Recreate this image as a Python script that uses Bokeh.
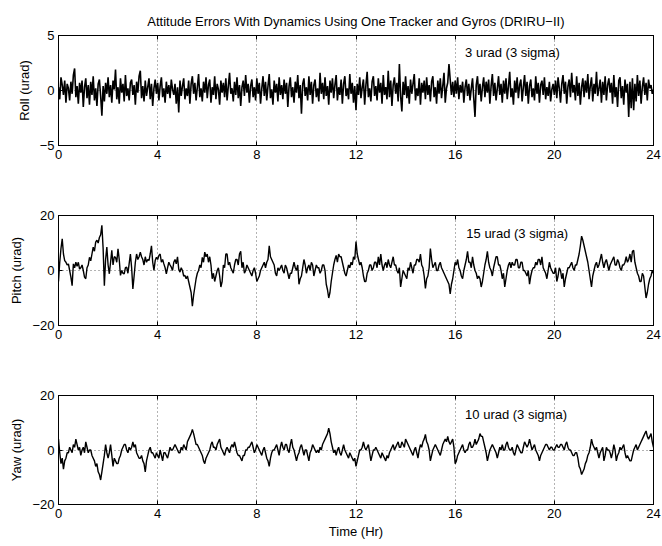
import numpy as np
from bokeh.plotting import figure
from bokeh.models import LinearAxis, Range1d, FixedTicker, ColumnDataSource
from bokeh.layouts import column
from bokeh.embed import file_html
from bokeh.resources import INLINE
from bokeh.core.properties import value

FONT = "Liberation Sans"
FS = "13px"

title_text = "Attitude Errors With Dynamics Using One Tracker and Gyros (DRIRU\u2212II)"
x_ticks = [0, 4, 8, 12, 16, 20, 24]
x_label = "Time (Hr)"

# Roll error (urad), sampled every 0.05 hr
roll_step = 0.05
roll = [
    0.3, -0.8, 1.2, 0.5, -0.4, 0.9, -1.1, 0.6, 0.2, -0.9, 0.8, -0.3, 1.4, 2.0, -0.6, 0.4, -1.2, 0.7, -0.2, 0.9,
    -1.5, 0.3, 1.1, -0.7, 0.5, -1.3, 0.8, -0.4, 1.3, -0.9, 0.2, -1.4, 0.6, 1.0, -0.5, -2.3, 0.4, -1.0, 0.7, -0.3,
    1.2, -0.6, 0.5, -1.1, 0.9, 0.1, 1.9, -0.8, 0.3, -1.2, 1.1, -0.2, 0.6, -1.0, 1.4, -0.5, 0.2, -0.9, 0.7, 1.0,
    -0.4, 0.5, -1.3, 0.8, -0.2, 1.3, 1.8, -0.7, 0.4, -1.0, 0.9, -0.5, 0.3, 1.1, -0.8, 0.6, -1.4, 0.2, 1.0, -0.3,
    0.7, -0.9, 0.4, 1.2, -0.6, 0.2, -1.1, 0.8, -0.3, 0.5, -0.7, 1.0, 0.1, -0.4, 0.6, -1.2, 0.3, -2.0, 0.9, -0.5,
    0.4, 1.1, -0.8, 0.2, -0.5, 0.9, -1.2, 0.6, 1.3, -0.3, 0.7, -0.9, 0.3, 1.5, -0.6, 0.2, -1.0, 0.8, -0.2, 1.2,
    -0.7, 0.5, 1.0, -1.1, 0.3, -0.4, 1.3, -0.8, 0.6, 0.1, -1.3, 0.9, -0.2, 0.7, -0.6, 1.1, -0.9, 0.4, 1.6, -0.3,
    0.2, -1.0, 0.8, -0.4, 1.2, -0.7, 0.5, -1.4, 0.3, 0.9, -0.5, 1.4, -0.2, 0.6, -1.1, 0.4, 1.0, -0.6, 0.3, -0.9,
    1.1, -0.3, 0.7, -1.2, 0.2, 1.3, -0.5, 0.8, -0.9, 0.4, 1.5, -0.7, 0.1, -1.3, 0.9, -0.2, 0.6, -1.0, 1.2, -0.4,
    0.5, -0.8, 1.0, -0.3, 0.7, -1.5, 0.4, 1.2, -0.6, 0.3, -1.1, 0.8, -0.2, 1.4, -0.7, 0.5, -2.1, 0.6, 1.1, -0.5,
    0.3, -0.9, 1.3, -0.4, 0.8, -1.2, 0.5, 1.0, -0.6, 0.2, -1.0, 1.6, -0.3, 0.7, -0.8, 1.2, -0.5, 0.4, -1.3, 0.9,
    -0.2, 1.1, -0.7, 0.5, 1.4, -0.9, 0.3, -0.4, 1.0, -1.2, 0.6, 1.3, -0.5, 0.2, -0.8, 1.5, -0.3, 0.7, -1.1, 0.4,
    -1.8, 0.6, -0.4, 1.2, -0.7, 0.3, 1.0, -1.3, 0.5, 1.7, -0.6, 0.2, -1.0, 0.8, 1.3, -0.5, 0.4, -0.9, 1.1, -0.2,
    0.7, -1.2, 1.4, -0.4, 0.3, -0.8, 1.8, -0.6, 0.9, -1.4, 0.5, 1.2, -0.3, 0.7, -1.0, 2.4, -0.5, -1.9, 0.8, -0.4,
    1.3, -0.7, 0.4, -1.2, 1.0, -0.3, 0.6, 1.5, -0.9, 0.2, -0.5, 1.1, -1.3, 0.7, -0.2, 0.9, -0.8, 1.2, -0.4, 0.5,
    -1.0, 0.8, 1.3, -0.6, 0.3, -1.2, 0.9, -0.3, 1.1, -0.7, 0.4, 1.6, -1.1, 0.2, 0.7, 2.4, 1.0, -0.4, 0.8, -0.6,
    0.9, -0.3, 1.2, -0.8, 0.5, -0.2, 0.8, -1.1, 0.3, 1.0, -0.5, 0.6, -0.9, 0.2, 1.1, -0.7, -2.4, 0.5, 1.3, -0.4,
    0.6, -1.0, 0.3, 1.2, -0.6, 0.8, -0.2, 1.0, -1.2, 0.4, 1.5, -0.5, 0.7, -0.9, 0.2, 1.3, -0.4, 0.6, -1.1, 0.9,
    -0.3, 1.1, -0.8, 0.4, 1.7, -0.6, 0.2, -1.3, 0.9, -0.2, 1.2, -0.7, 0.5, 1.0, -1.0, 0.3, 1.4, -0.5, 0.8, -1.2,
    0.4, 1.0, -0.6, 0.2, -0.9, 1.3, -0.3, 0.7, -1.1, 0.5, 0.9, -0.4, 1.2, -0.8, 0.3, -0.5, 0.8, -1.0, 0.1, 0.6,
    -0.4, 0.9, -0.7, 1.2, 0.2, -1.1, 0.6, 1.4, -0.3, 0.8, -1.2, 0.4, 1.0, -0.6, 1.6, -0.2, 0.5, -0.9, 1.3, -0.5,
    0.7, -1.3, 0.3, 1.1, -0.6, 0.9, -0.2, 1.5, -0.8, 0.4, 1.2, -1.0, 0.6, -0.3, 1.7, -0.5, 0.2, 1.0, -1.1, 0.8,
    -0.4, 1.3, -0.9, 0.5, 1.1, -0.2, 0.7, -1.2, 1.4, -0.6, 0.3, -1.5, 0.9, 1.2, -0.7, 0.4, -1.3, 1.0, -0.2, 0.6,
    -2.4, 0.8, -1.6, 1.1, -1.8, 0.6, -1.0, 1.4, -0.5, 0.9, -1.2, 0.3, 1.2, -0.4, 0.7, -0.9, 1.0, 0.2, 0.5, -0.3,
    0.1,
]

# Pitch error (urad), sampled every 0.05 hr
pitch_step = 0.05
pitch = [
    -4, 3, 8, 11.5, 6, 3.6, 3, 2, 2.4, 0, -2.4, -5.5, 2.4, 1, 3, 1.5, 3, 0.5, 1, 2,
    0, -2.4, -3, 1, 2, 4.8, 3.5, 6, 8.5, 7, 10.3, 11, 10, 12, 13, 16.4, 8, -5.5, 4, 8.5,
    2, -1.2, 3, 7.3, 2, 5, 4.8, 3, 7.9, 4, -1.8, 0, -1, -1.2, 1, 1.2, -1, 2.5, 6, 1,
    -6.7, -2, 3, 6, 4, 5, 6.7, 5, 4, 2, 5, 3, 4, 3.6, 6, 9, 3, 0, 3.6, 4.8,
    4, 5.5, 6, 3, 4, 2.4, 1, -1.2, 1, 3, 2, 1.2, 0, 3, 4, 2.4, 5, 0.5, -0.6, 1,
    0, -2, -1.8, -3, -2, -4, -6, -8, -13, -9, -6, -3, -1, 0, 2, 1, 4.8, 3, 6.7, 5,
    6, 3, 5, 2, -3, -1, -4, -2, 0, 1, -2, -6, -4, 2, 1, 6, 6, 2, 3, 1,
    0, -1, 2, 4, 4, 2, 6, 7, 1, 3, -1, 0, 2, 1, 0, -1, -2, 0, 1, -1,
    -4, -3, -2, 0, 1, 2, 3, 1, 3, 4, 9, 5, 4, 3, 2, -1, -2, 1, 0, 1,
    2, 0, -1, 2, 1, -1, -3, -1, -1, 1, 3, 1, 0, 2, -5, -3, -2, 1, 4, 2,
    -1, 1, 2, 0, 3, 2, -2, 0, 2, 1, 1, -1, 0, 2, 2, 0, -5, -7, -10, -8,
    -4, -1, 2, 4, 5.5, 3, 6, 5, 5, 3, 1, -1, -2, 0, 2, 1, 3, 2, 5, 4,
    10.5, 6, 4, 2, 3, 1, -2, -4, -4, -1, 0, 2, 2, 0, 1, 3, 3, 1, 5, 2,
    6, 2, 0, 2, 3, 1, 4, 2, 1, 3, 5, 2, 2, 0, -1, 1, -6, -3, 0, -1,
    -2, -3, 1, 0, 3, 1, -1, 2, 2, 4, 4, 3, 6, 2, 1, -2, -6.5, -3, -2, 1,
    8, 4, 1, 2, 3, 0, 0, 2, 3, 1, 0, -1, -2, -3, -4, -5, -8.5, -5, -3, 0,
    3, 2, 4, 1, 0, -2, -3, 0, 2, 4, 7, 3, 3, 1, 5, 2, 0, -1, -3, -2,
    -3, -6, -4, -1, 2, 4, 7, 3, 1, 0, -2, 1, 3, 5, 5, 2, 2, 0, -3, -1,
    -6, -3, 0, 2, 3, 1, 3, 2, 2, 4, 4, 1, 1, 3, 3, 0, 0, -1, -2, 0,
    -5, -2, 0, 1, 1, 3, 2, 4, 4, 2, 5, 1, 0, -1, -3, 0, 3, 1, 0, -1,
    -1, 1, -4, -2, 1, 0, -3, -1, -6, -3, -1, 1, 1, 2, 3, 1, 0, 2, 2, 4,
    6, 9, 12.5, 11, 9, 7, 5, 3, 0, -3, -6, -2, 0, 2, 3, 1, 2, 4, 6, 3,
    1, 3, 4, 2, 0, 2, 3, 4, 5, 2, 2, 4, 3, 1, 0, 2, 2, 3, 5, 3,
    4, 6, 3, 7, 7.3, 3, 1, -1, -2, -4, -4, -1, -2, -6, -10, -8, -5, -3, -2, 0,
    -1,
]

# Yaw error (urad), sampled every 0.05 hr
yaw_step = 0.05
yaw = [
    4, -1, -5, -3, -7, -4, -3, -1, -1, 1, 0, -1, 2, 1, 4, 2, 0, 1, -2, 0,
    1, -1, 3, 1, -1, 0, 0, -2, -3, -4, -6, -5, -8, -9, -11, -8, -5, -2, 2, -1,
    -3, -1, 2, -2, -6, -3, -4, -5, -5, -3, -2, 0, 1, 2, 2, 0, -1, 1, 0, 1,
    3, 1, 2, -1, -2, -3, -3, -2, -4, -5, -8, -4, -2, 0, 1, -1, -1, -2, -3, -1,
    -2, -3, 0, -2, -4, -1, -1, -2, -3, -1, 1, 0, 0, 1, 2, 1, 0, -1, -1, 1,
    0, 2, 1, 0, 3, 4, 5, 6, 7.5, 6, 4, 2, 2, 1, 0, -1, -2, -4, -5, -3,
    -2, -1, 0, 2, 3, 1, 1, 0, 2, 3, 4, 1, 0, -1, -2, 0, 1, 0, -1, 1,
    2, 1, 3, 1, -1, -2, -2, -3, -4, -2, -2, 0, 0, 1, 1, 2, 3, 1, -1, 0,
    2, 1, 0, -1, -2, 0, 1, -1, -3, -4, -6, -3, -1, 0, 0, 1, 2, 0, -2, 1,
    3, 1, 0, 2, 2, 0, -1, 2, 4, 1, 0, -2, -4, -2, -1, 1, 2, 0, -2, 0,
    0, -2, -4, -1, 0, 2, 1, 0, -1, 0, -1, 1, 0, 2, 3, 4, 5, 6, 8, 6,
    3, 1, -1, 0, -2, 0, 1, -1, -2, 0, 2, 0, -1, -2, -3, -1, -2, -3, -4, -3,
    -6, -4, -2, 0, 0, 1, 3, 1, 0, 1, 2, -1, -4, -2, 0, 0, 1, 0, -1, -2,
    -3, -1, -2, -3, -4, -2, -3, -1, 0, 1, 2, 0, 1, 2, 3, 1, 1, 3, 2, 1,
    4, 3, 2, 1, 0, -1, -2, 0, 1, -1, -3, 0, 2, 1, 3, 4, 5.7, 3, 2, 0,
    -4, -2, 0, 1, 2, 1, 0, -1, -2, 0, 2, 3, 4, 3, 5, 3, 2, 3, 4, 1,
    -5, -4, -2, -1, 0, 1, 2, 0, -1, 0, 0, 2, 3, 1, 1, 2, 4, 2, 3, 4,
    6, 5, 5, 3, 1, -1, -4, -2, 0, 1, 2, 1, 0, -1, -3, -1, 1, 0, 2, 0,
    0, 2, 3, 1, 0, 0, 1, -1, -2, 0, 2, 1, 0, -1, -1, 1, 3, 2, 1, 2,
    4, 2, 0, 1, 2, 0, -1, -2, -4, -2, -1, 0, 1, 2, 2, 1, 0, 1, 1, 0,
    0, 1, 2, 1, 1, 2, 2, 1, 0, 2, 3, 1, 0, 0, -1, -2, -2, -1, -1, -3,
    -6, -7, -9, -8, -7, -5, -4, -2, -1, 1, 4, 2, 1, 0, 1, -1, -3, -1, 0, 1,
    -4, -2, 1, 0, 0, -1, -3, -1, 2, 0, -4, -2, -1, 1, 0, 1, 2, -1, -3, -2,
    -3, -4, -4, -2, 0, 1, 2, 0, 1, 2, 3, 4, 5, 6, 7, 5, 4, 5, 6, 3,
    1,
]

panels = [
    dict(values=roll, step=roll_step, ylabel="Roll (urad)", yr=(-5, 5), yticks=[-5, 0, 5],
         note="3 urad (3 sigma)", note_x=16.4, note_y=3.45, lw=1.6),
    dict(values=pitch, step=pitch_step, ylabel="Pitch (urad)", yr=(-20, 20), yticks=[-20, 0, 20],
         note="15 urad (3 sigma)", note_x=16.45, note_y=13.6, lw=1.4),
    dict(values=yaw, step=yaw_step, ylabel="Yaw (urad)", yr=(-20, 20), yticks=[-20, 0, 20],
         note="10 urad (3 sigma)", note_x=16.4, note_y=13.0, lw=1.4),
]


def fmt(v):
    return ("\u2212" + str(abs(v))) if v < 0 else str(v)


def style_axis(ax, ticks, labels=True):
    ax.ticker = FixedTicker(ticks=ticks)
    ax.major_tick_in = 4
    ax.major_tick_out = 0
    ax.minor_tick_line_color = None
    ax.axis_line_color = "black"
    ax.major_tick_line_color = "black"
    ax.major_label_text_font = FONT
    ax.major_label_text_color = "black"
    ax.major_label_text_font_size = FS
    ax.axis_label_text_color = "black"
    if labels:
        ax.major_label_overrides = {t: fmt(t) for t in ticks}
        ax.major_label_standoff = 4
    else:
        ax.major_label_overrides = {t: "" for t in ticks}
        ax.major_label_standoff = 0


figs = []
borders = [(35, 35), (35, 35), (35, 41)]
for i, pc in enumerate(panels):
    top, bottom = borders[i]
    p = figure(frame_width=595, frame_height=110 if i < 2 else 109,
               min_border_left=58, min_border_right=9, min_border_top=top, min_border_bottom=bottom,
               x_range=Range1d(0, 24), y_range=Range1d(*pc["yr"]),
               output_backend="svg", toolbar_location=None,
               background_fill_color="white", border_fill_color="white")
    p.outline_line_color = "black"
    p.outline_line_width = 1

    xa = p.xaxis[0]
    ya = p.yaxis[0]
    style_axis(xa, x_ticks)
    style_axis(ya, pc["yticks"])
    ya.axis_label = pc["ylabel"]
    ya.axis_label_text_font = FONT
    ya.axis_label_text_font_size = FS
    ya.axis_label_text_font_style = "normal"
    ya.axis_label_standoff = 5

    ra = LinearAxis()
    style_axis(ra, pc["yticks"], labels=False)
    p.add_layout(ra, "right")
    ta = LinearAxis()
    style_axis(ta, x_ticks, labels=False)
    p.add_layout(ta, "above")

    p.xgrid.ticker = FixedTicker(ticks=x_ticks)
    p.ygrid.ticker = FixedTicker(ticks=pc["yticks"])
    for g in (p.xgrid[0], p.ygrid[0]):
        g.grid_line_color = "#666666"
        g.grid_line_alpha = 1.0
        g.grid_line_dash = "1 3"
        g.grid_line_width = 1

    n = len(pc["values"])
    t = np.arange(n) * pc["step"]
    src = ColumnDataSource(dict(t=t, v=pc["values"]))
    p.line("t", "v", source=src, line_color="black", line_width=pc["lw"])

    p.text(x=[pc["note_x"]], y=[pc["note_y"]], text=[pc["note"]],
           text_font=value(FONT), text_font_size=FS, text_color="black",
           text_align="left", text_baseline="middle")

    if i == 0:
        p.title.text = title_text
        p.title.align = "center"
        p.title.text_font = FONT
        p.title.text_font_size = FS
        p.title.text_font_style = "normal"
        p.title.text_color = "black"
        p.title.standoff = 14
    if i == 2:
        xa.axis_label = x_label
        xa.axis_label_text_font = FONT
        xa.axis_label_text_font_size = FS
        xa.axis_label_text_font_style = "normal"
        xa.axis_label_text_color = "black"
        xa.axis_label_standoff = 3
    figs.append(p)

layout = column(*figs, spacing=0)
open("out.html", "w").write(file_html(layout, INLINE))
